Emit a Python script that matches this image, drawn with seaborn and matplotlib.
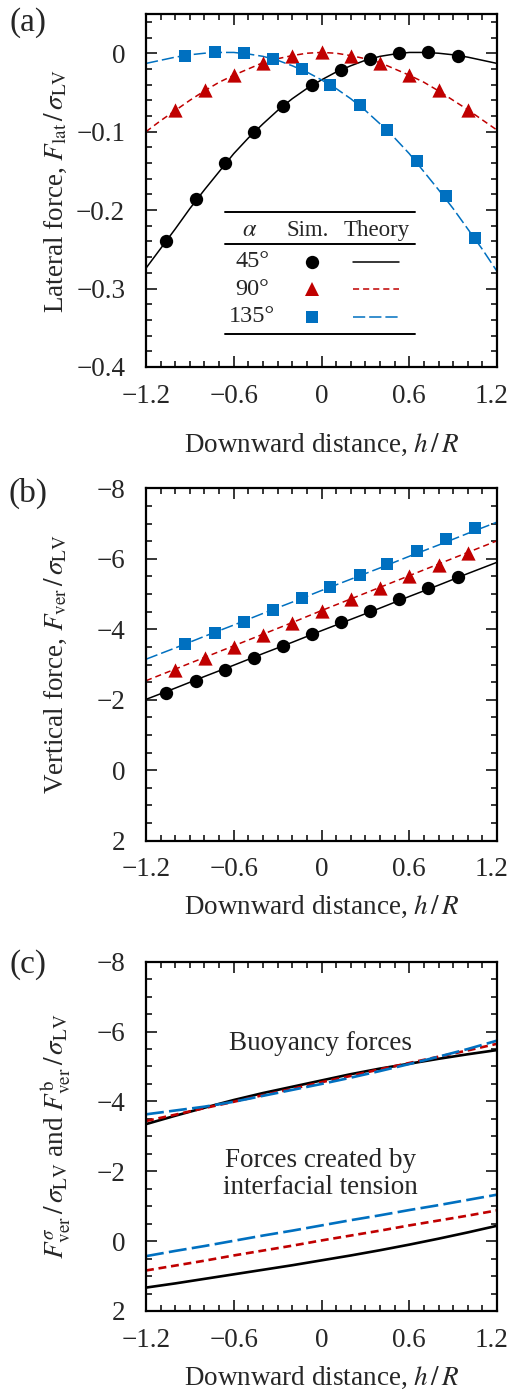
import numpy as np
import pandas as pd
import matplotlib
matplotlib.use("Agg")
import matplotlib.pyplot as plt
from matplotlib.ticker import MultipleLocator, FuncFormatter
from matplotlib.transforms import ScaledTranslation
import seaborn as sns

# ---------------- data ----------------
# simulation abscissae (h/R)
h_sim_45 = [-1.06, -0.86, -0.66, -0.46, -0.26, -0.065, 0.13, 0.33, 0.53, 0.73, 0.93]
h_sim_90 = [-1.0, -0.8, -0.6, -0.4, -0.2, 0.0, 0.2, 0.4, 0.6, 0.8, 1.0]
h_sim_135 = [-0.93, -0.73, -0.53, -0.33, -0.135, 0.06, 0.26, 0.45, 0.65, 0.85, 1.05]

# (a) lateral force, simulation
lat_sim_45 = [-0.239, -0.186, -0.140, -0.100, -0.067, -0.041, -0.021, -0.008, 0.000, 0.001, -0.003]
lat_sim_90 = [-0.073, -0.047, -0.028, -0.012, -0.003, 0.001, -0.003, -0.012, -0.028, -0.047, -0.072]
lat_sim_135 = [-0.003, 0.002, 0.000, -0.007, -0.020, -0.040, -0.066, -0.098, -0.137, -0.182, -0.235]

# (a) lateral force, theory
h_fine = [-1.2, -1.1, -1.0, -0.9, -0.8, -0.7, -0.6, -0.5, -0.4, -0.3, -0.2, -0.1, 0.0,
          0.1, 0.2, 0.3, 0.4, 0.5, 0.6, 0.7, 0.8, 0.9, 1.0, 1.1, 1.2]
lat_th_45 = [-0.274, -0.249, -0.224, -0.198, -0.174, -0.151, -0.128, -0.108, -0.090, -0.073,
             -0.058, -0.045, -0.034, -0.024, -0.016, -0.009, -0.004, -0.001, 0.001, 0.001,
             0.000, -0.002, -0.005, -0.009, -0.013]
lat_th_90 = [-0.100, -0.086, -0.073, -0.060, -0.048, -0.037, -0.028, -0.020, -0.012, -0.007,
             -0.003, 0.000, 0.001, 0.000, -0.003, -0.007, -0.012, -0.020, -0.028, -0.037,
             -0.048, -0.060, -0.072, -0.085, -0.098]
lat_th_135 = [-0.013, -0.009, -0.005, -0.002, 0.000, 0.001, 0.001, -0.001, -0.004, -0.009,
              -0.016, -0.024, -0.034, -0.045, -0.058, -0.073, -0.090, -0.108, -0.128, -0.151,
              -0.174, -0.198, -0.224, -0.250, -0.278]

# (b) vertical force, simulation
ver_sim_45 = [-2.19, -2.52, -2.85, -3.19, -3.53, -3.87, -4.20, -4.53, -4.86, -5.18, -5.48]
ver_sim_90 = [-2.85, -3.18, -3.51, -3.84, -4.17, -4.51, -4.85, -5.18, -5.51, -5.83, -6.15]
ver_sim_135 = [-3.59, -3.90, -4.21, -4.54, -4.88, -5.21, -5.54, -5.86, -6.21, -6.55, -6.88]

# (b)/(c) theory abscissae
h_coarse = [-1.2, -1.0, -0.8, -0.6, -0.4, -0.2, 0.0, 0.2, 0.4, 0.6, 0.8, 1.0, 1.2]
ver_th_45 = [-2.01, -2.33, -2.66, -2.98, -3.31, -3.63, -3.96, -4.28, -4.60, -4.93, -5.25, -5.58, -5.90]
ver_th_90 = [-2.54, -2.87, -3.20, -3.53, -3.86, -4.19, -4.53, -4.86, -5.19, -5.52, -5.85, -6.18, -6.51]
ver_th_135 = [-3.15, -3.47, -3.80, -4.12, -4.45, -4.77, -5.10, -5.42, -5.74, -6.07, -6.39, -6.72, -7.04]

# (c) buoyancy and interfacial-tension components (theory)
buoy_45 = [-3.35, -3.59, -3.82, -4.04, -4.24, -4.42, -4.60, -4.78, -4.94, -5.08, -5.22, -5.35, -5.47]
buoy_90 = [-3.44, -3.62, -3.81, -3.99, -4.18, -4.36, -4.55, -4.73, -4.92, -5.10, -5.28, -5.46, -5.65]
buoy_135 = [-3.63, -3.74, -3.85, -3.99, -4.16, -4.33, -4.50, -4.68, -4.87, -5.07, -5.28, -5.50, -5.74]
tens_45 = [1.33, 1.21, 1.08, 0.95, 0.82, 0.69, 0.55, 0.41, 0.26, 0.10, -0.07, -0.25, -0.44]
tens_90 = [0.84, 0.70, 0.56, 0.41, 0.27, 0.13, -0.02, -0.16, -0.30, -0.45, -0.59, -0.73, -0.88]
tens_135 = [0.43, 0.28, 0.14, -0.01, -0.16, -0.30, -0.45, -0.60, -0.74, -0.89, -1.03, -1.18, -1.33]

alpha_labels = ["45°", "90°", "135°"]

# ---------------- style ----------------
sns.set_style("ticks")
plt.rcParams["font.family"] = ["Liberation Serif", "DejaVu Serif"]
plt.rcParams["mathtext.fontset"] = "stix"
plt.rcParams["axes.unicode_minus"] = True

FS = 19.5      # tick labels, axis labels, annotations
FS_LEG = 16.5  # legend table

BLACK = "#000000"
RED = "#C00000"
BLUE = "#0070C0"
colors = [BLACK, RED, BLUE]
markers = ["o", "^", "s"]
msizes = [92, 105, 66]
ls_ab = ["-", (0, (4.0, 2.6)), (0, (8.0, 2.6))]
ls_c = ["-", (0, (3.0, 1.8)), (0, (6.8, 2.0))]

W, H = 510, 1393
fig = plt.figure(figsize=(W / 100, H / 100), dpi=100)

def axes_box(top_px, bottom_px, left_px=146, right_px=497):
    return [left_px / W, 1 - bottom_px / H, (right_px - left_px) / W, (bottom_px - top_px) / H]

ax_a = fig.add_axes(axes_box(14, 367))
ax_b = fig.add_axes(axes_box(488.3, 840.7))
ax_c = fig.add_axes(axes_box(961.7, 1311))

def fmt(v, pos):
    if abs(v) < 1e-9:
        return "0"
    s = f"{v:.10g}"
    return s.replace("-", "\u2212")

XLABEL = r"Downward distance, $h\,/\,R$"

def style_axis(ax, ymajor, yminor, xlabel_y):
    ax.set_xlim(-1.2, 1.2)
    ax.xaxis.set_major_locator(MultipleLocator(0.6))
    ax.xaxis.set_minor_locator(MultipleLocator(0.1))
    ax.yaxis.set_major_locator(MultipleLocator(ymajor))
    ax.yaxis.set_minor_locator(MultipleLocator(yminor))
    ax.xaxis.set_major_formatter(FuncFormatter(fmt))
    ax.yaxis.set_major_formatter(FuncFormatter(fmt))
    ax.tick_params(which="both", direction="in", top=True, right=True,
                   labeltop=False, labelright=False, width=1.1, color="black")
    ax.tick_params(which="major", length=8)
    ax.tick_params(which="minor", length=4.5)
    ax.tick_params(axis="y", which="major", pad=15, labelsize=FS)
    ax.tick_params(axis="x", which="major", pad=12, labelsize=FS)
    for sp in ax.spines.values():
        sp.set_visible(True)
        sp.set_linewidth(1.6)
        sp.set_color("black")
    ax.set_xlabel(XLABEL, fontsize=FS, va="center")
    ax.xaxis.set_label_coords(0.5, xlabel_y)
    ax.yaxis.set_label_coords(-0.257, 0.5)
    ax.set_facecolor("white")

# ---------------- panel (a) ----------------
lat_th = [lat_th_45, lat_th_90, lat_th_135]
lat_sim = [lat_sim_45, lat_sim_90, lat_sim_135]
h_sims = [h_sim_45, h_sim_90, h_sim_135]
for i in range(3):
    sns.lineplot(x=h_fine, y=lat_th[i], ax=ax_a, color=colors[i], linewidth=1.1,
                 linestyle=ls_ab[i], sort=False, estimator=None, legend=False)
for i in range(3):
    sns.scatterplot(x=h_sims[i], y=lat_sim[i], ax=ax_a, color=colors[i], marker=markers[i],
                    s=msizes[i], linewidth=0, legend=False, zorder=3)
ax_a.set_ylim(-0.4, 0.05)
style_axis(ax_a, 0.1, 0.02, -0.221)
ax_a.set_ylabel(r"Lateral force, $F_{\mathrm{lat}}\,/\,\sigma_{\mathrm{LV}}$", fontsize=FS)
ax_a.yaxis.label.set_va("center")

# table-style legend
tA = ax_a.transAxes
x0, x1 = 0.225, 0.766
for yy in (0.438, 0.348, 0.0935):
    ax_a.plot([x0, x1], [yy, yy], color="black", lw=1.4, transform=tA, clip_on=False)
ax_a.text(0.296, 0.386, r"$\alpha$", transform=tA, ha="center", va="center", fontsize=FS_LEG + 1)
ax_a.text(0.4615, 0.386, "Sim.", transform=tA, ha="center", va="center", fontsize=FS_LEG)
ax_a.text(0.657, 0.386, "Theory", transform=tA, ha="center", va="center", fontsize=FS_LEG)
row_y = [0.298, 0.220, 0.1425]
for i in range(3):
    ax_a.text(0.302, row_y[i], alpha_labels[i], transform=tA, ha="center", va="center",
              fontsize=FS_LEG + 1)
    ax_a.plot([0.472], [row_y[i]], marker=markers[i], ms=np.sqrt(msizes[i]),
              color=colors[i], mew=0, ls="none", transform=tA)
    ax_a.plot([0.591, 0.721], [row_y[i], row_y[i]], color=colors[i], lw=1.1,
              linestyle=ls_ab[i], transform=tA)

# ---------------- panel (b) ----------------
ver_th = [ver_th_45, ver_th_90, ver_th_135]
ver_sim = [ver_sim_45, ver_sim_90, ver_sim_135]
for i in range(3):
    sns.lineplot(x=h_coarse, y=ver_th[i], ax=ax_b, color=colors[i], linewidth=1.1,
                 linestyle=ls_ab[i], sort=False, estimator=None, legend=False)
for i in range(3):
    sns.scatterplot(x=h_sims[i], y=ver_sim[i], ax=ax_b, color=colors[i], marker=markers[i],
                    s=msizes[i], linewidth=0, legend=False, zorder=3)
ax_b.set_ylim(2, -8)
style_axis(ax_b, 2, 0.5, -0.187)
ax_b.set_ylabel(r"Vertical force, $F_{\mathrm{ver}}\,/\,\sigma_{\mathrm{LV}}$", fontsize=FS)
ax_b.yaxis.label.set_va("center")

# ---------------- panel (c) ----------------
buoy = [buoy_45, buoy_90, buoy_135]
tens = [tens_45, tens_90, tens_135]
for i in range(3):
    sns.lineplot(x=h_coarse, y=buoy[i], ax=ax_c, color=colors[i], linewidth=1.9,
                 linestyle=ls_c[i], sort=False, estimator=None, legend=False)
    sns.lineplot(x=h_coarse, y=tens[i], ax=ax_c, color=colors[i], linewidth=1.9,
                 linestyle=ls_c[i], sort=False, estimator=None, legend=False)
ax_c.set_ylim(2, -8)
style_axis(ax_c, 2, 0.5, -0.192)
ax_c.set_ylabel(r"$F^{\sigma}_{\mathrm{ver}}\,/\,\sigma_{\mathrm{LV}}$ and "
                r"$F^{\mathrm{b}}_{\mathrm{ver}}\,/\,\sigma_{\mathrm{LV}}$", fontsize=FS)
ax_c.yaxis.label.set_va("center")
ax_c.text(0.496, 0.767, "Buoyancy forces", transform=ax_c.transAxes, ha="center",
          va="center", fontsize=FS)
ax_c.text(0.496, 0.391, "Forces created by\ninterfacial tension", transform=ax_c.transAxes,
          ha="center", va="center", fontsize=FS, linespacing=1.1)

# panel letters
for lab, yc in (("(a)", 22.5), ("(b)", 493.5), ("(c)", 965)):
    fig.text(28 / W, 1 - yc / H, lab, ha="center", va="center", fontsize=24)

# nudge the right-most x tick label so it stays inside the canvas
fig.canvas.draw()
for ax in (ax_a, ax_b, ax_c):
    ticks = ax.xaxis.get_major_ticks()
    locs = ax.xaxis.get_majorticklocs()
    for tk, loc in zip(ticks, locs):
        if abs(loc - 1.2) < 1e-6:
            tk.label1.set_transform(tk.label1.get_transform() +
                                    ScaledTranslation(-4 / 72, 0, fig.dpi_scale_trans))

fig.savefig("out.png", dpi=100, facecolor="white")
